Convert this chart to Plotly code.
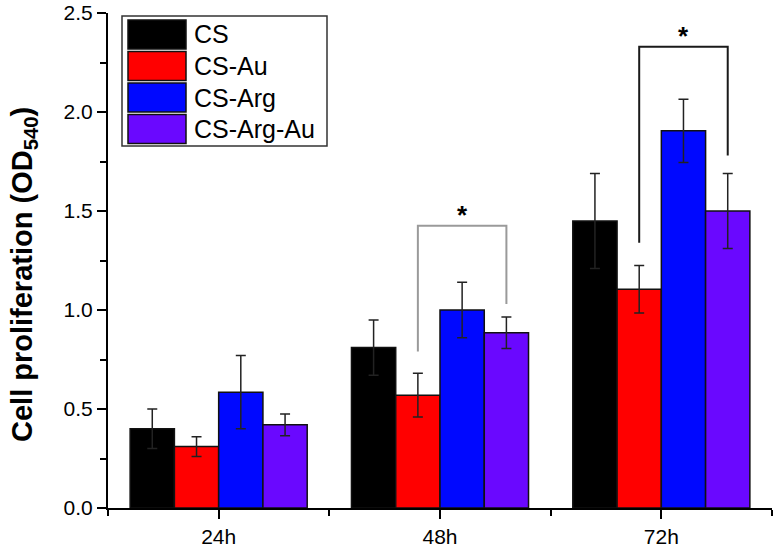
import plotly.graph_objects as go

# ---------------- data ----------------
time_points = ["24h", "48h", "72h"]
series_names = ["CS", "CS-Au", "CS-Arg", "CS-Arg-Au"]
cs_mean = [0.40, 0.81, 1.45]
cs_err = [0.10, 0.14, 0.24]
csau_mean = [0.31, 0.57, 1.105]
csau_err = [0.05, 0.11, 0.12]
csarg_mean = [0.585, 1.00, 1.905]
csarg_err = [0.185, 0.14, 0.16]
csargau_mean = [0.42, 0.885, 1.50]
csargau_err = [0.055, 0.08, 0.19]

# significance brackets: (time index, series a, series b, bracket level, end a, end b)
sig_time = [1, 2]
sig_a = [1, 1]
sig_b = [3, 3]
sig_level = [1.425, 2.33]
sig_end_a = [0.79, 1.34]
sig_end_b = [1.03, 1.78]
sig_label = ["*", "*"]

y_tick_vals = [0, 0.5, 1.0, 1.5, 2.0, 2.5]
y_tick_text = ["0.0", "0.5", "1.0", "1.5", "2.0", "2.5"]
y_title = "<b>Cell proliferation (OD<sub>540</sub>)</b>"

means = [cs_mean, csau_mean, csarg_mean, csargau_mean]
errs = [cs_err, csau_err, csarg_err, csargau_err]
colors = ["#000000", "#ff0000", "#0008ff", "#6a08ff"]
bracket_colors = ["#9a9a9a", "#1a1a1a"]

x_idx = list(range(len(time_points)))
FONT = "Liberation Sans, Arial, sans-serif"

fig = go.Figure()
for name, m, e, c in zip(series_names, means, errs, colors):
    fig.add_trace(go.Bar(
        x=x_idx, y=m, name=name,
        marker=dict(color=c, line=dict(color="#111111", width=1.5)),
        error_y=dict(type="data", array=e, visible=True, color="#222222",
                     thickness=1.5, width=5),
        showlegend=False,
    ))

n_series = len(series_names)
bar_w = 0.8 / n_series
def bar_center(t, s):
    return t + (s - (n_series - 1) / 2) * bar_w

for t, a, b, lvl, ea, eb, lab, bc in zip(sig_time, sig_a, sig_b, sig_level,
                                           sig_end_a, sig_end_b, sig_label, bracket_colors):
    xa, xb = bar_center(t, a), bar_center(t, b)
    fig.add_trace(go.Scatter(
        x=[xa, xa, xb, xb], y=[ea, lvl, lvl, eb], mode="lines",
        line=dict(color=bc, width=2), showlegend=False, hoverinfo="skip",
    ))
    fig.add_annotation(x=(xa + xb) / 2, y=lvl, yref="y", xref="x",
                       text="<b>%s</b>" % lab, showarrow=False,
                       yanchor="bottom", yshift=-6,
                       font=dict(family=FONT, size=26, color="#000000"))

# ---------------- pixel helpers ----------------
PX_L, PX_R, PX_T, PX_B = 108, 772, 13, 508
def px_x(px):
    return (px - PX_L) / (PX_R - PX_L)
def px_y(py):
    return (PX_B - py) / (PX_B - PX_T)

# y-axis title
fig.add_annotation(xref="paper", yref="paper", x=px_x(24), y=px_y(275),
                   text=y_title, textangle=-90, showarrow=False,
                   xanchor="center", yanchor="middle", borderpad=0,
                   font=dict(family=FONT, size=29, color="#000000"))

# ---------------- custom legend (large swatches) ----------------
fig.add_shape(type="rect", xref="paper", yref="paper",
              x0=px_x(122), x1=px_x(327), y0=px_y(146), y1=px_y(16),
              line=dict(color="#333333", width=1.5), fillcolor="white", layer="above")
row_top = 20
row_pitch = 31.5
row_h = 29
for i, (name, c) in enumerate(zip(series_names, colors)):
    top = row_top + i * row_pitch
    fig.add_shape(type="rect", xref="paper", yref="paper",
                  x0=px_x(128), x1=px_x(186), y0=px_y(top + row_h), y1=px_y(top),
                  line=dict(color="#111111", width=1.5), fillcolor=c, layer="above")
    fig.add_annotation(xref="paper", yref="paper", x=px_x(192), y=px_y(top + row_h / 2),
                       text=name, showarrow=False, xanchor="left", yanchor="middle",
                       font=dict(family=FONT, size=25, color="#000000"))

fig.update_layout(
    width=779, height=547,
    margin=dict(l=108, r=7, t=13, b=39),
    paper_bgcolor="white", plot_bgcolor="white",
    barmode="group", bargap=0.2, bargroupgap=0,
    font=dict(family=FONT, color="#000000"),
    showlegend=False,
)
fig.update_xaxes(
    range=[-0.5, 2.5], tickmode="array", tickvals=x_idx, ticktext=time_points,
    showline=True, linecolor="#000000", linewidth=2, mirror=False,
    ticks="outside", ticklen=9, tickwidth=2, tickcolor="#000000",
    tickfont=dict(family=FONT, size=21, color="#000000"),
    minor=dict(tickmode="array", tickvals=[-0.5, 0.5, 1.5, 2.5], ticks="outside",
               ticklen=6, tickwidth=2, tickcolor="#000000"),
    showgrid=False, zeroline=False, automargin=False, ticklabeloverflow="allow",
)
fig.update_yaxes(
    range=[0, 2.5], tickmode="array", tickvals=y_tick_vals, ticktext=y_tick_text,
    showline=True, linecolor="#000000", linewidth=2,
    ticks="outside", ticklen=9, tickwidth=2, tickcolor="#000000",
    tickfont=dict(family=FONT, size=21, color="#000000"),
    minor=dict(tickmode="array", tickvals=[0.25, 0.75, 1.25, 1.75, 2.25], ticks="outside",
               ticklen=6, tickwidth=2, tickcolor="#000000"),
    showgrid=False, zeroline=False, automargin=False, ticklabeloverflow="allow",
)

# remove the default 8px page margin so the figure fills the window exactly
fig.write_html("out.html",
               config=dict(displayModeBar=False, staticPlot=True),
               post_script="document.body.style.margin='0px';document.body.style.overflow='hidden';")
